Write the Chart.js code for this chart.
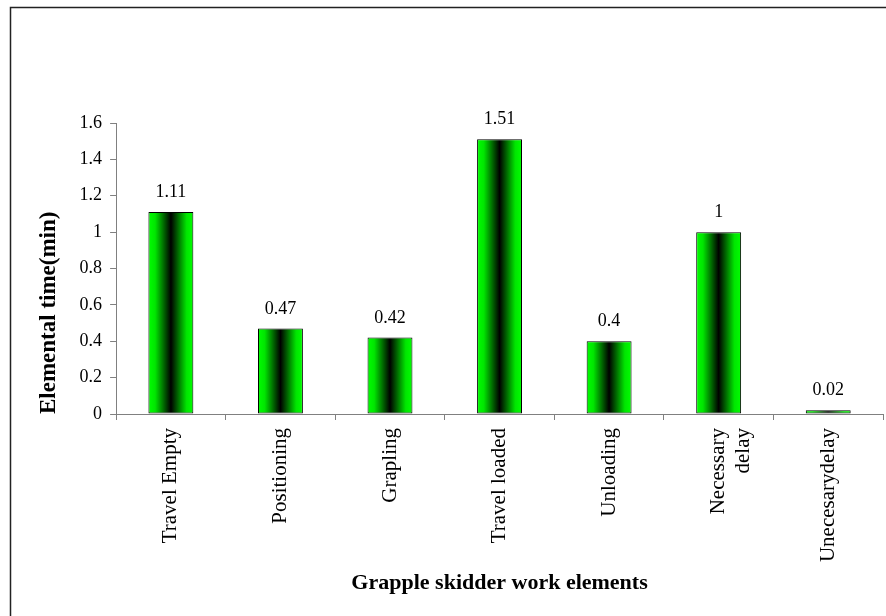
<!DOCTYPE html>
<html>
<head>
<meta charset="utf-8">
<script src="https://cdn.jsdelivr.net/npm/chart.js@4.4.1/dist/chart.umd.min.js"></script>
<style>
  html, body { margin: 0; padding: 0; background: #fff; }
  #wrap { width: 886px; height: 616px; position: relative; }
</style>
</head>
<body>
<div id="wrap"><canvas id="chart"></canvas></div>
<script>
const categories = ["Travel Empty", "Positioning", "Grapling", "Travel loaded", "Unloading", ["Necessary", "delay"], "Unecesarydelay"]
const times = [1.11, 0.47, 0.42, 1.51, 0.4, 1, 0.02]
const yTicks = [0, 0.2, 0.4, 0.6, 0.8, 1, 1.2, 1.4, 1.6]

const FONT = "'Liberation Serif', 'Times New Roman', serif"
const AXIS_GREY = "#808080"
const BAR_PCT = 0.41

// green -> black -> green across each bar
function barGradient(ctx) {
  const chart = ctx.chart
  const x = chart.scales.x
  if (!x || !chart.chartArea) return "#00ff00"
  const cx = x.getPixelForValue(ctx.dataIndex)
  const w = (x.width / categories.length) * BAR_PCT
  const g = chart.ctx.createLinearGradient(cx - w / 2, 0, cx + w / 2, 0)
  g.addColorStop(0, "#00ff00")
  g.addColorStop(0.15, "#00e600")
  g.addColorStop(0.5, "#000000")
  g.addColorStop(0.85, "#00e600")
  g.addColorStop(1, "#00ff00")
  return g
}

const valueLabels = {
  id: "valueLabels",
  afterDatasetsDraw(chart) {
    const { ctx } = chart
    const meta = chart.getDatasetMeta(0)
    ctx.save()
    ctx.font = "18px " + FONT
    ctx.fillStyle = "#000"
    ctx.textAlign = "center"
    ctx.textBaseline = "alphabetic"
    meta.data.forEach((bar, i) => {
      ctx.fillText(String(times[i]), bar.x, bar.y - 15)
    })
    ctx.restore()
  }
}

const frame = {
  id: "frame",
  afterDraw(chart) {
    const { ctx } = chart
    ctx.save()
    ctx.strokeStyle = "#222"
    ctx.lineWidth = 1.5
    ctx.beginPath()
    ctx.moveTo(10.5, 616)
    ctx.lineTo(10.5, 7.5)
    ctx.lineTo(886, 7.5)
    ctx.stroke()
    ctx.restore()
  }
}

new Chart(document.getElementById("chart"), {
  type: "bar",
  data: {
    labels: categories,
    datasets: [{
      data: times,
      backgroundColor: barGradient,
      borderColor: "#000",
      borderWidth: 1,
      borderSkipped: false,
      categoryPercentage: 1,
      barPercentage: BAR_PCT
    }]
  },
  options: {
    responsive: true,
    maintainAspectRatio: false,
    animation: false,
    layout: { padding: { top: 123, left: 35, right: 3, bottom: 19.5 } },
    plugins: {
      legend: { display: false },
      tooltip: { enabled: false }
    },
    scales: {
      x: {
        grid: { drawOnChartArea: false, color: AXIS_GREY, tickLength: 6, offset: true },
        border: { color: AXIS_GREY, width: 1 },
        ticks: {
          color: "#000",
          font: { family: FONT, size: 21 },
          maxRotation: 90,
          minRotation: 90,
          padding: 8,
          autoSkip: false
        },
        title: {
          display: true,
          text: "Grapple skidder work elements",
          color: "#000",
          font: { family: FONT, size: 22, weight: "bold" },
          padding: { top: 0, bottom: 0 }
        }
      },
      y: {
        min: 0,
        max: 1.6,
        grid: { drawOnChartArea: false, color: AXIS_GREY, tickLength: 6 },
        border: { color: AXIS_GREY, width: 1 },
        afterBuildTicks: (axis) => { axis.ticks = yTicks.map(v => ({ value: v })) },
        ticks: {
          color: "#000",
          font: { family: FONT, size: 18 },
          padding: 8,
          callback: (v) => String(Number(v.toFixed(1)))
        },
        title: {
          display: true,
          text: "Elemental time(min)",
          align: "start",
          color: "#000",
          font: { family: FONT, size: 23, weight: "bold" },
          padding: { top: 0, bottom: 9 }
        }
      }
    }
  },
  plugins: [valueLabels, frame]
})
</script>
</body>
</html>
